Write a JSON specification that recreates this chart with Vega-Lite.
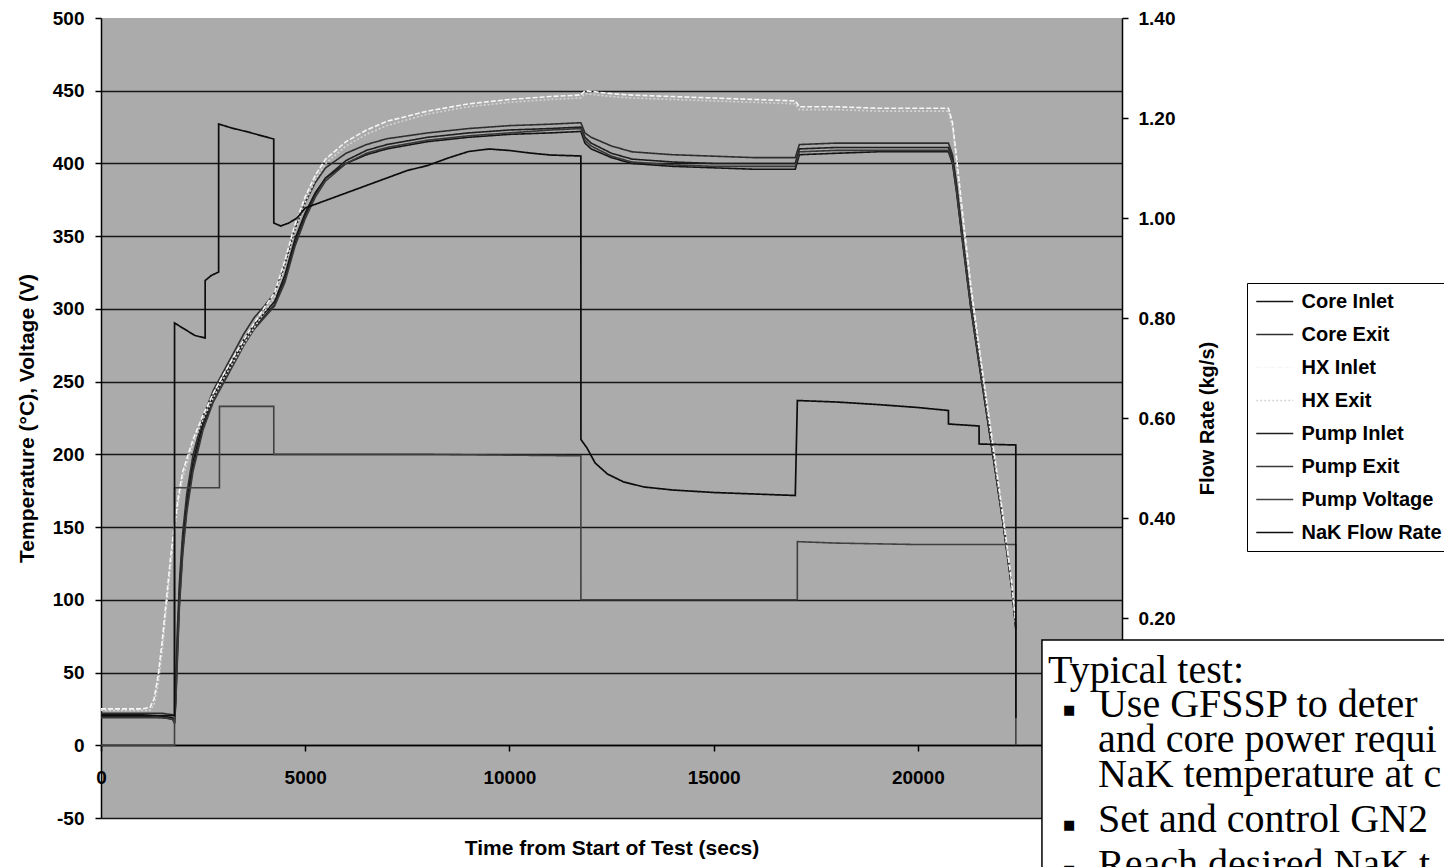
{
  "$schema": "https://vega.github.io/schema/vega-lite/v6.json",
  "width": 1021,
  "height": 800,
  "autosize": {"type": "none"},
  "padding": {"left": 101, "top": 18, "right": 322, "bottom": 49},
  "background": "white",
  "config": {
    "view": {"fill": "#ababab", "stroke": null},
    "font": "Liberation Sans",
    "axis": {
      "labelFont": "Liberation Sans", "labelFontWeight": "bold", "labelFontSize": 19, "labelColor": "#000",
      "titleFont": "Liberation Sans", "titleFontWeight": "bold", "titleColor": "#000",
      "domainColor": "#000", "tickColor": "#000", "domainWidth": 1.5, "tickWidth": 1.5, "tickSize": 6,
      "labelOverlap": false, "labelFlush": false
    },
    "legend": {
      "orient": "none", "legendX": 1146, "legendY": 265,
      "padding": 8, "strokeColor": "#000", "fillColor": "#ffffff",
      "labelFont": "Liberation Sans", "labelFontWeight": "bold", "labelFontSize": 20, "labelColor": "#000", "labelLimit": 400,
      "symbolType": "M-2,0H2", "symbolSize": 342, "symbolStrokeWidth": 1.6,
      "symbolOffset": 9.25, "labelOffset": 16.25, "rowPadding": 12
    }
  },
  "datasets": {
    "L": [
      {"s":"Core Inlet","t":0,"v":21},{"s":"Core Inlet","t":1000,"v":21},{"s":"Core Inlet","t":1500,"v":20},{"s":"Core Inlet","t":1750,"v":19},{"s":"Core Inlet","t":1800,"v":17},{"s":"Core Inlet","t":1830,"v":35},{"s":"Core Inlet","t":1870,"v":70},{"s":"Core Inlet","t":1920,"v":105},{"s":"Core Inlet","t":2000,"v":140},{"s":"Core Inlet","t":2100,"v":168},{"s":"Core Inlet","t":2250,"v":195},{"s":"Core Inlet","t":2500,"v":222},{"s":"Core Inlet","t":2750,"v":240},{"s":"Core Inlet","t":3000,"v":253},{"s":"Core Inlet","t":3250,"v":266},{"s":"Core Inlet","t":3500,"v":279},{"s":"Core Inlet","t":3750,"v":289},{"s":"Core Inlet","t":4000,"v":297},{"s":"Core Inlet","t":4250,"v":305},{"s":"Core Inlet","t":4500,"v":323},{"s":"Core Inlet","t":4750,"v":348},{"s":"Core Inlet","t":5000,"v":366},{"s":"Core Inlet","t":5250,"v":380},{"s":"Core Inlet","t":5500,"v":390},{"s":"Core Inlet","t":6000,"v":400},{"s":"Core Inlet","t":6500,"v":406},{"s":"Core Inlet","t":7000,"v":410},{"s":"Core Inlet","t":8000,"v":415},{"s":"Core Inlet","t":9000,"v":418},{"s":"Core Inlet","t":10000,"v":420},{"s":"Core Inlet","t":11000,"v":421},{"s":"Core Inlet","t":11750,"v":422},{"s":"Core Inlet","t":11850,"v":414},{"s":"Core Inlet","t":12000,"v":410},{"s":"Core Inlet","t":12500,"v":404},{"s":"Core Inlet","t":13000,"v":400},{"s":"Core Inlet","t":14000,"v":398},{"s":"Core Inlet","t":15000,"v":397},{"s":"Core Inlet","t":16000,"v":396},{"s":"Core Inlet","t":17000,"v":396},{"s":"Core Inlet","t":17100,"v":406},{"s":"Core Inlet","t":18000,"v":407},{"s":"Core Inlet","t":19000,"v":408},{"s":"Core Inlet","t":20000,"v":408},{"s":"Core Inlet","t":20750,"v":408},{"s":"Core Inlet","t":20850,"v":400},{"s":"Core Inlet","t":20950,"v":380},{"s":"Core Inlet","t":21100,"v":345},{"s":"Core Inlet","t":21300,"v":300},{"s":"Core Inlet","t":21500,"v":262},{"s":"Core Inlet","t":21700,"v":225},{"s":"Core Inlet","t":21900,"v":188},{"s":"Core Inlet","t":22100,"v":150},{"s":"Core Inlet","t":22300,"v":108},{"s":"Core Inlet","t":22400,"v":80},
      {"s":"Core Exit","t":0,"v":22},{"s":"Core Exit","t":1000,"v":22},{"s":"Core Exit","t":1500,"v":22},{"s":"Core Exit","t":1750,"v":21},{"s":"Core Exit","t":1800,"v":20},{"s":"Core Exit","t":1830,"v":45},{"s":"Core Exit","t":1870,"v":80},{"s":"Core Exit","t":1920,"v":112},{"s":"Core Exit","t":2000,"v":146},{"s":"Core Exit","t":2100,"v":173},{"s":"Core Exit","t":2250,"v":199},{"s":"Core Exit","t":2500,"v":226},{"s":"Core Exit","t":2750,"v":244},{"s":"Core Exit","t":3000,"v":257},{"s":"Core Exit","t":3250,"v":270},{"s":"Core Exit","t":3500,"v":283},{"s":"Core Exit","t":3750,"v":294},{"s":"Core Exit","t":4000,"v":302},{"s":"Core Exit","t":4250,"v":311},{"s":"Core Exit","t":4500,"v":330},{"s":"Core Exit","t":4750,"v":355},{"s":"Core Exit","t":5000,"v":373},{"s":"Core Exit","t":5250,"v":387},{"s":"Core Exit","t":5500,"v":397},{"s":"Core Exit","t":6000,"v":407},{"s":"Core Exit","t":6500,"v":413},{"s":"Core Exit","t":7000,"v":417},{"s":"Core Exit","t":8000,"v":421},{"s":"Core Exit","t":9000,"v":424},{"s":"Core Exit","t":10000,"v":426},{"s":"Core Exit","t":11000,"v":427},{"s":"Core Exit","t":11750,"v":428},{"s":"Core Exit","t":11850,"v":421},{"s":"Core Exit","t":12000,"v":418},{"s":"Core Exit","t":12500,"v":412},{"s":"Core Exit","t":13000,"v":408},{"s":"Core Exit","t":14000,"v":406},{"s":"Core Exit","t":15000,"v":405},{"s":"Core Exit","t":16000,"v":404},{"s":"Core Exit","t":17000,"v":404},{"s":"Core Exit","t":17100,"v":413},{"s":"Core Exit","t":18000,"v":414},{"s":"Core Exit","t":19000,"v":414},{"s":"Core Exit","t":20000,"v":414},{"s":"Core Exit","t":20750,"v":414},{"s":"Core Exit","t":20850,"v":406},{"s":"Core Exit","t":20950,"v":386},{"s":"Core Exit","t":21100,"v":350},{"s":"Core Exit","t":21300,"v":305},{"s":"Core Exit","t":21500,"v":266},{"s":"Core Exit","t":21700,"v":228},{"s":"Core Exit","t":21900,"v":191},{"s":"Core Exit","t":22100,"v":152},{"s":"Core Exit","t":22300,"v":110},{"s":"Core Exit","t":22400,"v":82},
      {"s":"Pump Inlet","t":0,"v":20},{"s":"Pump Inlet","t":1000,"v":20},{"s":"Pump Inlet","t":1500,"v":19},{"s":"Pump Inlet","t":1750,"v":18},{"s":"Pump Inlet","t":1800,"v":16},{"s":"Pump Inlet","t":1830,"v":30},{"s":"Pump Inlet","t":1870,"v":62},{"s":"Pump Inlet","t":1920,"v":98},{"s":"Pump Inlet","t":2000,"v":134},{"s":"Pump Inlet","t":2100,"v":163},{"s":"Pump Inlet","t":2250,"v":191},{"s":"Pump Inlet","t":2500,"v":219},{"s":"Pump Inlet","t":2750,"v":238},{"s":"Pump Inlet","t":3000,"v":251},{"s":"Pump Inlet","t":3250,"v":264},{"s":"Pump Inlet","t":3500,"v":277},{"s":"Pump Inlet","t":3750,"v":287},{"s":"Pump Inlet","t":4000,"v":295},{"s":"Pump Inlet","t":4250,"v":303},{"s":"Pump Inlet","t":4500,"v":320},{"s":"Pump Inlet","t":4750,"v":345},{"s":"Pump Inlet","t":5000,"v":364},{"s":"Pump Inlet","t":5250,"v":379},{"s":"Pump Inlet","t":5500,"v":390},{"s":"Pump Inlet","t":6000,"v":402},{"s":"Pump Inlet","t":6500,"v":409},{"s":"Pump Inlet","t":7000,"v":413},{"s":"Pump Inlet","t":8000,"v":418},{"s":"Pump Inlet","t":9000,"v":421},{"s":"Pump Inlet","t":10000,"v":423},{"s":"Pump Inlet","t":11000,"v":424},{"s":"Pump Inlet","t":11750,"v":425},{"s":"Pump Inlet","t":11850,"v":418},{"s":"Pump Inlet","t":12000,"v":414},{"s":"Pump Inlet","t":12500,"v":407},{"s":"Pump Inlet","t":13000,"v":403},{"s":"Pump Inlet","t":14000,"v":401},{"s":"Pump Inlet","t":15000,"v":400},{"s":"Pump Inlet","t":16000,"v":400},{"s":"Pump Inlet","t":17000,"v":400},{"s":"Pump Inlet","t":17100,"v":410},{"s":"Pump Inlet","t":18000,"v":411},{"s":"Pump Inlet","t":19000,"v":411},{"s":"Pump Inlet","t":20000,"v":411},{"s":"Pump Inlet","t":20750,"v":411},{"s":"Pump Inlet","t":20850,"v":403},{"s":"Pump Inlet","t":20950,"v":383},{"s":"Pump Inlet","t":21100,"v":347},{"s":"Pump Inlet","t":21300,"v":302},{"s":"Pump Inlet","t":21500,"v":264},{"s":"Pump Inlet","t":21700,"v":226},{"s":"Pump Inlet","t":21900,"v":189},{"s":"Pump Inlet","t":22100,"v":151},{"s":"Pump Inlet","t":22300,"v":109},{"s":"Pump Inlet","t":22400,"v":81},
      {"s":"Pump Exit","t":0,"v":19},{"s":"Pump Exit","t":1000,"v":19},{"s":"Pump Exit","t":1500,"v":19},{"s":"Pump Exit","t":1750,"v":18},{"s":"Pump Exit","t":1800,"v":15},{"s":"Pump Exit","t":1830,"v":28},{"s":"Pump Exit","t":1870,"v":58},{"s":"Pump Exit","t":1920,"v":95},{"s":"Pump Exit","t":2000,"v":131},{"s":"Pump Exit","t":2100,"v":160},{"s":"Pump Exit","t":2250,"v":188},{"s":"Pump Exit","t":2500,"v":217},{"s":"Pump Exit","t":2750,"v":236},{"s":"Pump Exit","t":3000,"v":249},{"s":"Pump Exit","t":3250,"v":262},{"s":"Pump Exit","t":3500,"v":275},{"s":"Pump Exit","t":3750,"v":286},{"s":"Pump Exit","t":4000,"v":294},{"s":"Pump Exit","t":4250,"v":302},{"s":"Pump Exit","t":4500,"v":318},{"s":"Pump Exit","t":4750,"v":343},{"s":"Pump Exit","t":5000,"v":362},{"s":"Pump Exit","t":5250,"v":377},{"s":"Pump Exit","t":5500,"v":388},{"s":"Pump Exit","t":6000,"v":400},{"s":"Pump Exit","t":6500,"v":407},{"s":"Pump Exit","t":7000,"v":411},{"s":"Pump Exit","t":8000,"v":416},{"s":"Pump Exit","t":9000,"v":419},{"s":"Pump Exit","t":10000,"v":421},{"s":"Pump Exit","t":11000,"v":423},{"s":"Pump Exit","t":11750,"v":424},{"s":"Pump Exit","t":11850,"v":416},{"s":"Pump Exit","t":12000,"v":412},{"s":"Pump Exit","t":12500,"v":405},{"s":"Pump Exit","t":13000,"v":401},{"s":"Pump Exit","t":14000,"v":399},{"s":"Pump Exit","t":15000,"v":398},{"s":"Pump Exit","t":16000,"v":398},{"s":"Pump Exit","t":17000,"v":398},{"s":"Pump Exit","t":17100,"v":408},{"s":"Pump Exit","t":18000,"v":409},{"s":"Pump Exit","t":19000,"v":409},{"s":"Pump Exit","t":20000,"v":409},{"s":"Pump Exit","t":20750,"v":409},{"s":"Pump Exit","t":20850,"v":401},{"s":"Pump Exit","t":20950,"v":381},{"s":"Pump Exit","t":21100,"v":346},{"s":"Pump Exit","t":21300,"v":301},{"s":"Pump Exit","t":21500,"v":263},{"s":"Pump Exit","t":21700,"v":226},{"s":"Pump Exit","t":21900,"v":188},{"s":"Pump Exit","t":22100,"v":150},{"s":"Pump Exit","t":22300,"v":108},{"s":"Pump Exit","t":22400,"v":80},
      {"s":"HX Exit","t":0,"v":24},{"s":"HX Exit","t":1000,"v":24},{"s":"HX Exit","t":1200,"v":24},{"s":"HX Exit","t":1300,"v":28},{"s":"HX Exit","t":1400,"v":42},{"s":"HX Exit","t":1500,"v":65},{"s":"HX Exit","t":1600,"v":94},{"s":"HX Exit","t":1700,"v":122},{"s":"HX Exit","t":1800,"v":147},{"s":"HX Exit","t":1900,"v":168},{"s":"HX Exit","t":2000,"v":184},{"s":"HX Exit","t":2250,"v":207},{"s":"HX Exit","t":2500,"v":224},{"s":"HX Exit","t":2750,"v":239},{"s":"HX Exit","t":3000,"v":252},{"s":"HX Exit","t":3500,"v":276},{"s":"HX Exit","t":4000,"v":298},{"s":"HX Exit","t":4250,"v":308},{"s":"HX Exit","t":4500,"v":329},{"s":"HX Exit","t":4750,"v":354},{"s":"HX Exit","t":5000,"v":373},{"s":"HX Exit","t":5250,"v":389},{"s":"HX Exit","t":5500,"v":400},{"s":"HX Exit","t":6000,"v":412},{"s":"HX Exit","t":6500,"v":420},{"s":"HX Exit","t":7000,"v":426},{"s":"HX Exit","t":8000,"v":434},{"s":"HX Exit","t":9000,"v":439},{"s":"HX Exit","t":10000,"v":442},{"s":"HX Exit","t":11000,"v":444},{"s":"HX Exit","t":11750,"v":445},{"s":"HX Exit","t":11850,"v":448},{"s":"HX Exit","t":12500,"v":446},{"s":"HX Exit","t":13000,"v":445},{"s":"HX Exit","t":14000,"v":444},{"s":"HX Exit","t":15000,"v":443},{"s":"HX Exit","t":16000,"v":442},{"s":"HX Exit","t":17000,"v":441},{"s":"HX Exit","t":17100,"v":437},{"s":"HX Exit","t":18000,"v":437},{"s":"HX Exit","t":19000,"v":436},{"s":"HX Exit","t":20000,"v":436},{"s":"HX Exit","t":20750,"v":436},{"s":"HX Exit","t":20850,"v":425},{"s":"HX Exit","t":20950,"v":400},{"s":"HX Exit","t":21100,"v":361},{"s":"HX Exit","t":21300,"v":312},{"s":"HX Exit","t":21500,"v":271},{"s":"HX Exit","t":21700,"v":231},{"s":"HX Exit","t":21900,"v":192},{"s":"HX Exit","t":22100,"v":153},{"s":"HX Exit","t":22300,"v":110},{"s":"HX Exit","t":22400,"v":82},
      {"s":"HX Inlet","t":0,"v":25},{"s":"HX Inlet","t":1000,"v":25},{"s":"HX Inlet","t":1200,"v":26},{"s":"HX Inlet","t":1300,"v":32},{"s":"HX Inlet","t":1400,"v":48},{"s":"HX Inlet","t":1500,"v":72},{"s":"HX Inlet","t":1600,"v":100},{"s":"HX Inlet","t":1700,"v":128},{"s":"HX Inlet","t":1800,"v":152},{"s":"HX Inlet","t":1900,"v":172},{"s":"HX Inlet","t":2000,"v":188},{"s":"HX Inlet","t":2250,"v":210},{"s":"HX Inlet","t":2500,"v":227},{"s":"HX Inlet","t":2750,"v":242},{"s":"HX Inlet","t":3000,"v":255},{"s":"HX Inlet","t":3500,"v":279},{"s":"HX Inlet","t":4000,"v":301},{"s":"HX Inlet","t":4250,"v":311},{"s":"HX Inlet","t":4500,"v":333},{"s":"HX Inlet","t":4750,"v":358},{"s":"HX Inlet","t":5000,"v":377},{"s":"HX Inlet","t":5250,"v":392},{"s":"HX Inlet","t":5500,"v":403},{"s":"HX Inlet","t":6000,"v":415},{"s":"HX Inlet","t":6500,"v":423},{"s":"HX Inlet","t":7000,"v":429},{"s":"HX Inlet","t":8000,"v":436},{"s":"HX Inlet","t":9000,"v":441},{"s":"HX Inlet","t":10000,"v":444},{"s":"HX Inlet","t":11000,"v":446},{"s":"HX Inlet","t":11750,"v":447},{"s":"HX Inlet","t":11850,"v":450},{"s":"HX Inlet","t":12500,"v":448},{"s":"HX Inlet","t":13000,"v":447},{"s":"HX Inlet","t":14000,"v":446},{"s":"HX Inlet","t":15000,"v":445},{"s":"HX Inlet","t":16000,"v":444},{"s":"HX Inlet","t":17000,"v":443},{"s":"HX Inlet","t":17100,"v":439},{"s":"HX Inlet","t":18000,"v":439},{"s":"HX Inlet","t":19000,"v":438},{"s":"HX Inlet","t":20000,"v":438},{"s":"HX Inlet","t":20750,"v":438},{"s":"HX Inlet","t":20850,"v":428},{"s":"HX Inlet","t":20950,"v":404},{"s":"HX Inlet","t":21100,"v":365},{"s":"HX Inlet","t":21300,"v":316},{"s":"HX Inlet","t":21500,"v":274},{"s":"HX Inlet","t":21700,"v":234},{"s":"HX Inlet","t":21900,"v":195},{"s":"HX Inlet","t":22100,"v":155},{"s":"HX Inlet","t":22300,"v":112},{"s":"HX Inlet","t":22400,"v":84},
      {"s":"Pump Voltage","t":0,"v":0},{"s":"Pump Voltage","t":1800,"v":0},{"s":"Pump Voltage","t":1801,"v":177},{"s":"Pump Voltage","t":2900,"v":177},{"s":"Pump Voltage","t":2901,"v":233},{"s":"Pump Voltage","t":4230,"v":233},{"s":"Pump Voltage","t":4231,"v":200},{"s":"Pump Voltage","t":8000,"v":200},{"s":"Pump Voltage","t":11750,"v":199},{"s":"Pump Voltage","t":11751,"v":100},{"s":"Pump Voltage","t":17050,"v":100},{"s":"Pump Voltage","t":17051,"v":140},{"s":"Pump Voltage","t":18000,"v":139},{"s":"Pump Voltage","t":20000,"v":138},{"s":"Pump Voltage","t":22400,"v":138},{"s":"Pump Voltage","t":22401,"v":0}
    ],
    "F": [
      {"s":"NaK Flow Rate","t":0,"f":0.005},{"s":"NaK Flow Rate","t":1800,"f":0.005},{"s":"NaK Flow Rate","t":1801,"f":0.79},{"s":"NaK Flow Rate","t":2000,"f":0.78},{"s":"NaK Flow Rate","t":2300,"f":0.765},{"s":"NaK Flow Rate","t":2550,"f":0.76},{"s":"NaK Flow Rate","t":2551,"f":0.875},{"s":"NaK Flow Rate","t":2700,"f":0.885},{"s":"NaK Flow Rate","t":2880,"f":0.892},{"s":"NaK Flow Rate","t":2881,"f":1.188},{"s":"NaK Flow Rate","t":3200,"f":1.18},{"s":"NaK Flow Rate","t":3600,"f":1.172},{"s":"NaK Flow Rate","t":4000,"f":1.163},{"s":"NaK Flow Rate","t":4230,"f":1.158},{"s":"NaK Flow Rate","t":4231,"f":0.99},{"s":"NaK Flow Rate","t":4400,"f":0.984},{"s":"NaK Flow Rate","t":4600,"f":0.99},{"s":"NaK Flow Rate","t":4800,"f":1.0},{"s":"NaK Flow Rate","t":5000,"f":1.02},{"s":"NaK Flow Rate","t":5500,"f":1.035},{"s":"NaK Flow Rate","t":6000,"f":1.05},{"s":"NaK Flow Rate","t":6500,"f":1.065},{"s":"NaK Flow Rate","t":7000,"f":1.08},{"s":"NaK Flow Rate","t":7500,"f":1.095},{"s":"NaK Flow Rate","t":8000,"f":1.105},{"s":"NaK Flow Rate","t":8500,"f":1.12},{"s":"NaK Flow Rate","t":9000,"f":1.133},{"s":"NaK Flow Rate","t":9500,"f":1.138},{"s":"NaK Flow Rate","t":10000,"f":1.135},{"s":"NaK Flow Rate","t":10500,"f":1.13},{"s":"NaK Flow Rate","t":11000,"f":1.126},{"s":"NaK Flow Rate","t":11750,"f":1.124},{"s":"NaK Flow Rate","t":11751,"f":0.557},{"s":"NaK Flow Rate","t":11900,"f":0.54},{"s":"NaK Flow Rate","t":12100,"f":0.51},{"s":"NaK Flow Rate","t":12400,"f":0.488},{"s":"NaK Flow Rate","t":12800,"f":0.472},{"s":"NaK Flow Rate","t":13300,"f":0.462},{"s":"NaK Flow Rate","t":14000,"f":0.456},{"s":"NaK Flow Rate","t":15000,"f":0.451},{"s":"NaK Flow Rate","t":16000,"f":0.448},{"s":"NaK Flow Rate","t":17000,"f":0.445},{"s":"NaK Flow Rate","t":17051,"f":0.635},{"s":"NaK Flow Rate","t":18000,"f":0.632},{"s":"NaK Flow Rate","t":19000,"f":0.627},{"s":"NaK Flow Rate","t":20000,"f":0.621},{"s":"NaK Flow Rate","t":20750,"f":0.615},{"s":"NaK Flow Rate","t":20751,"f":0.588},{"s":"NaK Flow Rate","t":21500,"f":0.584},{"s":"NaK Flow Rate","t":21501,"f":0.548},{"s":"NaK Flow Rate","t":22400,"f":0.546},{"s":"NaK Flow Rate","t":22401,"f":0.0}
    ]
  },
  "layer": [
    {
      "layer": [
        {
          "data": {"name": "L"},
          "mark": {"type": "line", "strokeWidth": 1.6},
          "encoding": {
            "x": {
              "field": "t", "type": "quantitative",
              "scale": {"domain": [0, 25000], "nice": false, "zero": false},
              "axis": {
                "title": "Time from Start of Test (secs)", "titleFontSize": 21, "titlePadding": 50,
                "values": [0, 5000, 10000, 15000, 20000], "format": "d",
                "offset": -73, "grid": false, "labelPadding": 17
              }
            },
            "y": {
              "field": "v", "type": "quantitative",
              "scale": {"domain": [-50, 500], "nice": false, "zero": false},
              "axis": {
                "title": "Temperature (°C), Voltage (V)", "titleFontSize": 21, "titlePadding": 15,
                "values": [-50, 0, 50, 100, 150, 200, 250, 300, 350, 400, 450, 500],
                "labelExpr": "'' + datum.value",
                "grid": true, "gridWidth": 1.3,
                "gridColor": {"condition": {"test": "datum.value === 500", "value": "transparent"}, "value": "#151515"},
                "labelPadding": 11
              }
            },
            "color": {
              "field": "s", "type": "nominal",
              "scale": {
                "domain": ["Core Inlet", "Core Exit", "HX Inlet", "HX Exit", "Pump Inlet", "Pump Exit", "Pump Voltage", "NaK Flow Rate"],
                "range": ["#141414", "#2e2e2e", "#f6f6f6", "#d4d4d4", "#1e1e1e", "#383838", "#404040", "#0c0c0c"]
              },
              "legend": {"title": null, "orient": "none", "legendX": 1146, "legendY": 265}
            },
            "strokeDash": {
              "field": "s", "type": "nominal",
              "scale": {
                "domain": ["Core Inlet", "Core Exit", "HX Inlet", "HX Exit", "Pump Inlet", "Pump Exit", "Pump Voltage", "NaK Flow Rate"],
                "range": [[1, 0], [1, 0], [5, 2], [2, 2], [1, 0], [1, 0], [1, 0], [1, 0]]
              },
              "legend": {"title": null, "orient": "none", "legendX": 1146, "legendY": 265}
            }
          }
        },
        {
          "data": {"values": [{}]},
          "mark": {"type": "rect", "fill": "#ffffff", "stroke": "#000000", "strokeWidth": 1.5},
          "encoding": {
            "x": {"datum": 23040, "type": "quantitative", "title": "Time from Start of Test (secs)"},
            "x2": {"datum": 40000},
            "y": {"datum": 72.4, "type": "quantitative", "title": "Temperature (°C), Voltage (V)"},
            "y2": {"datum": -150}
          }
        },
        {
          "data": {"values": [{}]},
          "mark": {"type": "text", "text": "Typical test:", "font": "Liberation Serif", "fontSize": 40, "align": "left", "baseline": "alphabetic", "color": "#000"},
          "encoding": {
            "x": {"datum": 23188, "type": "quantitative", "title": "Time from Start of Test (secs)"},
            "y": {"datum": 42.8, "type": "quantitative", "title": "Temperature (°C), Voltage (V)"}
          }
        },
        {
          "data": {"values": [{}]},
          "mark": {"type": "text", "text": ["Use GFSSP to determine GN2 flow rate", "and core power required to achieve the", "NaK temperature at core exit"], "lineHeight": 35, "limit": 345, "ellipsis": "\u200b", "font": "Liberation Serif", "fontSize": 40, "align": "left", "baseline": "alphabetic", "color": "#000"},
          "encoding": {
            "x": {"datum": 24412, "type": "quantitative", "title": "Time from Start of Test (secs)"},
            "y": {"datum": 19.4, "type": "quantitative", "title": "Temperature (°C), Voltage (V)"}
          }
        },
        {
          "data": {"values": [{}]},
          "mark": {"type": "text", "text": ["Set and control GN2 flow rate", "Reach desired NaK temperature"], "lineHeight": 45, "limit": 345, "ellipsis": "\u200b", "font": "Liberation Serif", "fontSize": 40, "align": "left", "baseline": "alphabetic", "color": "#000"},
          "encoding": {
            "x": {"datum": 24412, "type": "quantitative", "title": "Time from Start of Test (secs)"},
            "y": {"datum": -59.6, "type": "quantitative", "title": "Temperature (°C), Voltage (V)"}
          }
        },
        {
          "data": {"values": [{}]},
          "mark": {"type": "text", "text": ["■"], "font": "DejaVu Sans", "fontSize": 13, "align": "left", "baseline": "alphabetic", "color": "#000"},
          "encoding": {
            "x": {"datum": 23555, "type": "quantitative", "title": "Time from Start of Test (secs)"},
            "y": {"datum": 21.5, "type": "quantitative", "title": "Temperature (°C), Voltage (V)"}
          }
        },
        {
          "data": {"values": [{}]},
          "mark": {"type": "text", "text": ["■", "■"], "lineHeight": 45, "font": "DejaVu Sans", "fontSize": 13, "align": "left", "baseline": "alphabetic", "color": "#000"},
          "encoding": {
            "x": {"datum": 23555, "type": "quantitative", "title": "Time from Start of Test (secs)"},
            "y": {"datum": -57.5, "type": "quantitative", "title": "Temperature (°C), Voltage (V)"}
          }
        }
      ]
    },
    {
      "data": {"name": "F"},
      "mark": {"type": "line", "strokeWidth": 1.7},
      "encoding": {
        "x": {"field": "t", "type": "quantitative", "title": "Time from Start of Test (secs)"},
        "y": {
          "field": "f", "type": "quantitative",
          "scale": {"domain": [-0.2, 1.4], "nice": false, "zero": false},
          "axis": {
            "orient": "right", "title": "Flow Rate (kg/s)", "titleFontSize": 20, "titleAngle": 270, "titleBaseline": "top", "titlePadding": 23,
            "values": [0.2, 0.4, 0.6, 0.8, 1.0, 1.2, 1.4], "format": ".2f",
            "grid": false, "labelPadding": 10
          }
        },
        "color": {
          "field": "s", "type": "nominal",
          "scale": {
            "domain": ["Core Inlet", "Core Exit", "HX Inlet", "HX Exit", "Pump Inlet", "Pump Exit", "Pump Voltage", "NaK Flow Rate"],
            "range": ["#141414", "#2e2e2e", "#f6f6f6", "#d4d4d4", "#1e1e1e", "#383838", "#404040", "#0c0c0c"]
          },
          "legend": {"title": null, "orient": "none", "legendX": 1146, "legendY": 265}
        },
        "strokeDash": {
          "field": "s", "type": "nominal",
          "scale": {
            "domain": ["Core Inlet", "Core Exit", "HX Inlet", "HX Exit", "Pump Inlet", "Pump Exit", "Pump Voltage", "NaK Flow Rate"],
            "range": [[1, 0], [1, 0], [5, 2], [2, 2], [1, 0], [1, 0], [1, 0], [1, 0]]
          },
          "legend": {"title": null, "orient": "none", "legendX": 1146, "legendY": 265}
        }
      }
    }
  ],
  "resolve": {"scale": {"y": "independent"}}
}
